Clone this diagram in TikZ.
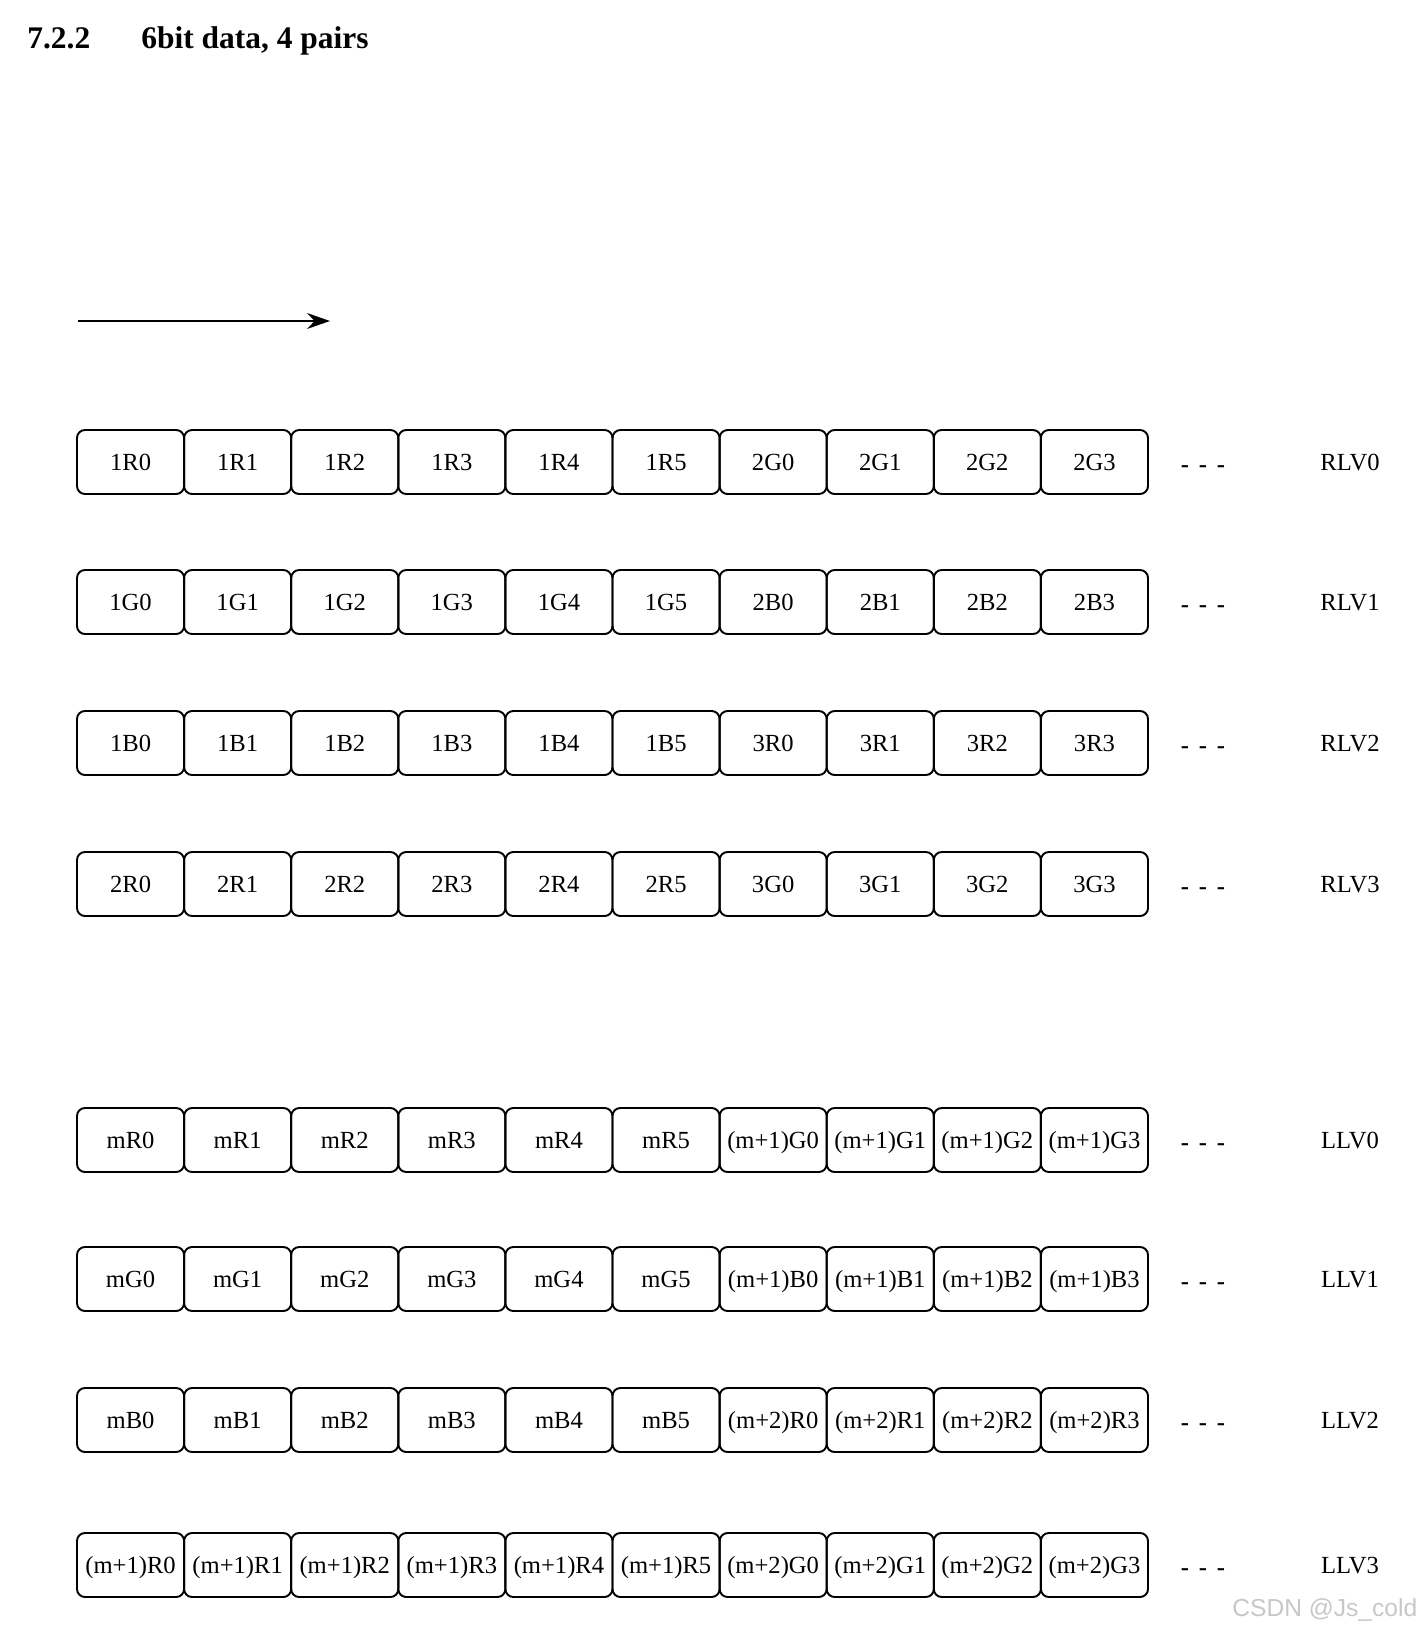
\documentclass[tikz,border=0pt]{standalone}
\usepackage{fontspec}
\setmainfont{Liberation Serif}
\newfontfamily\markfont{Liberation Sans}
\usetikzlibrary{arrows.meta}

\tikzset{
  cell/.style={draw, rounded corners=4.5pt, line width=1.1pt,
    minimum width=2.142cm, minimum height=1.28cm, inner sep=0pt, outer sep=0pt,
    text height=9.3pt, text depth=0pt, font=\fontsize{14pt}{16pt}\selectfont},
  more/.style={anchor=base, inner sep=0pt, font=\bfseries\fontsize{14pt}{16pt}\selectfont},
  lanename/.style={inner sep=0pt, text height=9.3pt, text depth=0pt,
    font=\fontsize{14pt}{16pt}\selectfont},
  heading/.style={anchor=base west, inner sep=0pt,
    font=\bfseries\fontsize{17.9pt}{20pt}\selectfont},
}

\begin{document}
\begin{tikzpicture}[x=0.02cm, y=-0.02cm]
  \useasboundingbox (0,0) rectangle (1425,1633);

  %===== heading =====%
  \node[heading] (secnum) at (27,48) {7.2.2};
  \node[heading] (sectitle) at (141,48) {6bit data, 4 pairs};

  % direction of transmission
  \coordinate (dirfrom) at (78,321);
  \coordinate (dirto) at (330,321);
  \draw[line width=1.2pt, -{Stealth[length=13pt, width=9pt]}] (dirfrom) -- (dirto);

  %===== lanes =====%
  \foreach \lane/\ya/\pa/\ca/\pb/\cb in {
      RLV0/462/1/R/2/G, RLV1/602/1/G/2/B, RLV2/743/1/B/3/R, RLV3/884/2/R/3/G,
      LLV0/1140/m/R/{(m+1)}/G, LLV1/1279/m/G/{(m+1)}/B,
      LLV2/1420/m/B/{(m+2)}/R, LLV3/1565/{(m+1)}/R/{(m+2)}/G} {
    % six bits of the first pixel
    \foreach \k in {0,...,5}
      \node[cell] (\lane-\k) at ({77+107.1*(\k+0.5)},\ya) {\pa\ca\k};
    % four bits of the next pixel
    \foreach \k [evaluate=\k as \j using int(\k+6)] in {0,...,3}
      \node[cell] (\lane-\j) at ({77+107.1*(\k+6.5)},\ya) {\pb\cb\k};
    \node[more] (\lane-more) at (1203,\ya+10)
      {-\hspace{0.4em}-\hspace{0.4em}-};
    \node[lanename] (\lane-name) at (1350,\ya) {\lane};
  }

  \node[anchor=base west, inner sep=0pt, text=black!22,
    font=\markfont\fontsize{14pt}{16pt}\selectfont] (mark) at (1232,1616) {CSDN @Js\_cold};
\end{tikzpicture}
\end{document}
